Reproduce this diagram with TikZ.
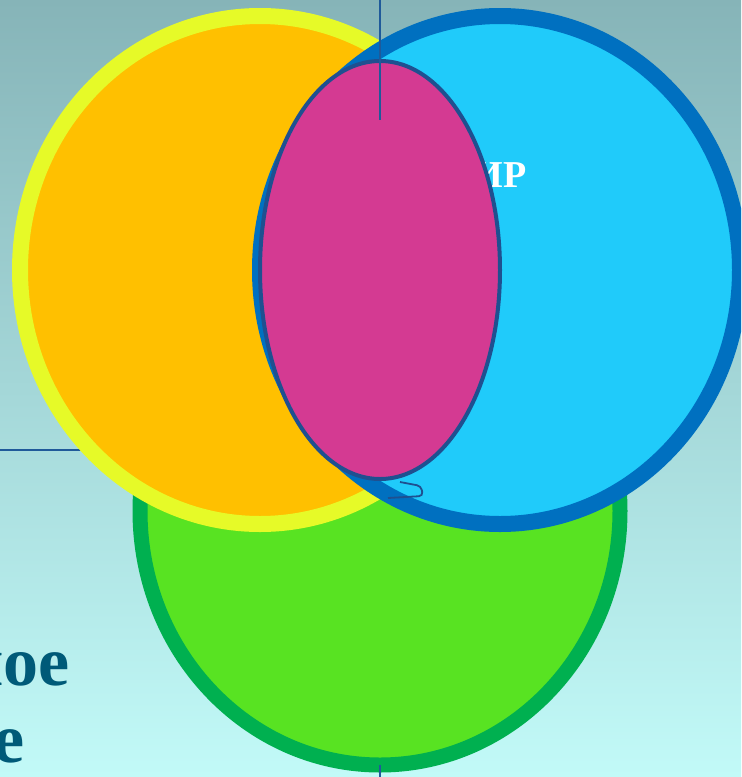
\documentclass[tikz,border=0pt]{standalone}
\usepackage{fontspec}
\setmainfont{Liberation Serif}
\usepackage{tikz}
\usetikzlibrary{positioning}
\definecolor{skytop}{HTML}{86B4B8}
\definecolor{skybottom}{HTML}{C2FAF8}
\definecolor{sunfill}{HTML}{FFC000}
\definecolor{sunring}{HTML}{E6FA28}
\definecolor{seafill}{HTML}{20CBFA}
\definecolor{searing}{HTML}{0070C0}
\definecolor{leaffill}{HTML}{58E322}
\definecolor{leafring}{HTML}{00B050}
\definecolor{lensfill}{HTML}{D43A92}
\definecolor{lensedge}{HTML}{1F5090}
\definecolor{guideblue}{HTML}{1F5A9A}
\definecolor{captionteal}{HTML}{005A78}
\newcommand{\vennring}[3]{% x, y, style
  \draw[#3] (#1,#2) ellipse [x radius=120pt, y radius=127pt];%
}
\tikzset{
  sunset/.style={fill=sunfill, draw=sunring, line width=8pt},
  seaset/.style={fill=seafill, draw=searing, line width=8pt},
  leafset/.style={fill=leaffill, draw=leafring, line width=7.5pt},
  lens/.style={fill=lensfill, draw=lensedge, line width=2pt},
  guide/.style={draw=guideblue, line width=1pt},
  tailline/.style={draw=lensedge, line width=0.9pt, rounded corners=2pt},
  whitelabel/.style={text=white, font=\fontsize{19}{22}\selectfont\bfseries, inner sep=0pt},
  caption/.style={text=captionteal, font=\fontsize{35}{40}\selectfont\bfseries, inner sep=0pt},
}
\begin{document}
\begin{tikzpicture}[x=0.5pt, y=-0.5pt]
  \useasboundingbox (0,0) rectangle (741,777);
  \clip (0,0) rectangle (741,777);
  \shade[top color=skytop, bottom color=skybottom] (0,0) rectangle (741,777);
  % left pointer under the rings
  \coordinate (leftstart) at (0,450);
  \coordinate (leftend) at (90,450);
  \draw[guide] (leftstart) -- (leftend);
  % three rings
  \vennring{380}{511}{leafset}
  \vennring{260}{270}{sunset}
  \vennring{500}{270}{seaset}
  \node[whitelabel, anchor=base east] (mirlabel) at (527,187) {ИР};
  % middle lens
  \draw[lens] (380,270) ellipse [x radius=60pt, y radius=104.5pt];
  \draw[tailline] (400,482) -- (421,486) -- (423,496) -- (388,498);
  % pointers
  \coordinate (topstart) at (380,0);
  \coordinate (topend) at (380,120);
  \draw[guide] (topstart) -- (topend);
  \coordinate (bottomstart) at (380,765);
  \coordinate (bottomend) at (380,777);
  \draw[guide] (bottomstart) -- (bottomend);
  % captions
  \node[caption, anchor=base east] (noecap) at (70,685) {ное};
  \node[caption, anchor=base east] (ecap) at (25,762) {е};
\end{tikzpicture}
\end{document}
